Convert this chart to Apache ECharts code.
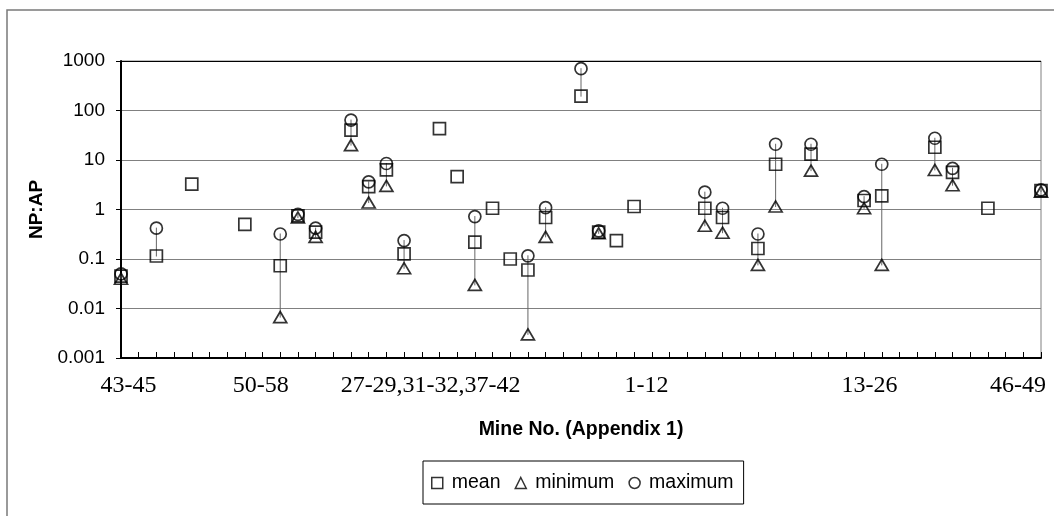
<!DOCTYPE html>
<html>
<head>
<meta charset="utf-8">
<script src="https://cdn.jsdelivr.net/npm/echarts@6/dist/echarts.min.js"></script>
<style>
  html, body { margin: 0; padding: 0; background: #fff; }
  #chart { width: 1054px; height: 516px; }
</style>
</head>
<body>
<div id="chart"></div>
<script>
// Mine groups named under the x axis, and the sampling slot each name is centred on
const groupLabels = ['43-45', '50-58', '27-29,31-32,37-42', '1-12', '13-26', '46-49'];
const groupLabelSlots = [0.42, 7.9, 17.5, 29.7, 42.3, 50.7];

// Log-axis tick labels, 0.001 .. 1000
const yTickLabels = ['0.001', '0.01', '0.1', '1', '10', '100', '1000'];

// NP:AP per sampling slot along the x axis (null = no value)
const meanNPAP = [
  0.045, null, 0.115, null, 3.25, null, null, 0.50, null, 0.073,
  0.74, 0.35, null, 40, 2.9, 6.3, 0.127, null, 43, 4.6,
  0.22, 1.06, 0.10, 0.06, 0.69, null, 195, 0.35, 0.236, 1.15,
  null, null, null, 1.06, 0.69, null, 0.163, 8.2, null, 13.1,
  null, null, 1.52, 1.88, null, null, 18.1, 5.6, null, 1.06,
  null, null, 2.4
];
const minNPAP = [
  0.04, null, null, null, null, null, null, null, null, 0.0067,
  0.69, 0.28, null, 20, 1.38, 3.0, 0.065, null, null, null,
  0.030, null, null, 0.0030, 0.28, null, null, 0.33, null, null,
  null, null, null, 0.47, 0.34, null, 0.076, 1.15, null, 6.1,
  null, null, 1.06, 0.076, null, null, 6.3, 3.1, null, null,
  null, null, 2.3
];
const maxNPAP = [
  0.05, null, 0.42, null, null, null, null, null, null, 0.32,
  0.80, 0.42, null, 64, 3.6, 8.5, 0.236, null, null, null,
  0.72, null, null, 0.116, 1.09, null, 700, 0.37, null, null,
  null, null, null, 2.24, 1.06, null, 0.32, 20.8, null, 20.8,
  null, null, 1.82, 8.2, null, null, 27.5, 6.8, null, null,
  null, null, 2.5
];

const slots = meanNPAP.map((_, i) => i);
const lastSlot = slots.length - 1;

function toPoints(arr) {
  const out = [];
  arr.forEach((v, i) => { if (v != null) out.push([i, v]); });
  return out;
}

// high-low line for each slot: lowest to highest of the three values
const rangeData = [];
slots.forEach(i => {
  const vals = [meanNPAP[i], minNPAP[i], maxNPAP[i]].filter(v => v != null);
  if (vals.length) rangeData.push([i, Math.min(...vals), Math.max(...vals)]);
});

const SANS = 'Liberation Sans, Arial, sans-serif';
const SERIF = 'Liberation Serif, Times New Roman, serif';
const gridGray = '#808080';

const chart = echarts.init(document.getElementById('chart'), null, { renderer: 'canvas' });

const markerStyle = { color: 'rgba(0,0,0,0)', borderColor: '#000', borderWidth: 1.7 };

chart.setOption({
  backgroundColor: '#fff',
  animation: false,
  graphic: [{
    type: 'rect', x: 7, y: 10, silent: true, z: -10,
    shape: { x: 0, y: 0, width: 1200, height: 700 },
    style: { fill: 'none', stroke: '#7a7a7a', lineWidth: 1.5 }
  }],
  grid: {
    left: 121, right: 13, top: 61, bottom: 158,
    show: true, borderColor: gridGray, borderWidth: 1, backgroundColor: 'transparent'
  },
  legend: {
    data: ['mean', 'minimum', 'maximum'],
    left: 423, top: 461,
    padding: [12, 10, 11, 8],
    itemGap: 14, itemWidth: 11, itemHeight: 11,
    borderColor: '#000', borderWidth: 1, borderRadius: 0,
    textStyle: { fontFamily: SANS, fontSize: 19.5, color: '#000', padding: [0, 0, 0, 4] },
    itemStyle: { borderWidth: 1.5 }
  },
  xAxis: {
    type: 'value', min: 0, max: lastSlot,
    name: 'Mine No. (Appendix 1)', nameLocation: 'middle', nameGap: 62,
    nameTextStyle: { fontFamily: SANS, fontSize: 19.5, fontWeight: 'bold', color: '#000' },
    axisLine: { onZero: false, lineStyle: { color: '#000', width: 2 } },
    axisTick: { inside: true, length: 6, customValues: slots, lineStyle: { color: '#000', width: 1 } },
    axisLabel: {
      customValues: groupLabelSlots,
      margin: 16,
      fontFamily: SERIF, fontSize: 24, color: '#000',
      formatter: v => {
        const k = groupLabelSlots.findIndex(p => Math.abs(p - v) < 1e-6);
        return k >= 0 ? groupLabels[k] : '';
      }
    },
    splitLine: { show: false }
  },
  yAxis: {
    type: 'log', logBase: 10, min: 0.001, max: 1000,
    name: 'NP:AP', nameLocation: 'middle', nameGap: 75, nameRotate: 90,
    nameTextStyle: { fontFamily: SANS, fontSize: 19, fontWeight: 'bold', color: '#000' },
    axisLine: { show: true, lineStyle: { color: '#000', width: 2 } },
    axisTick: { show: true, inside: false, length: 5, lineStyle: { color: '#000', width: 1 } },
    axisLabel: {
      margin: 16, fontFamily: SANS, fontSize: 19, color: '#000',
      formatter: v => yTickLabels[Math.round(Math.log10(v)) + 3]
    },
    splitLine: {
      show: true,
      lineStyle: { color: [gridGray, gridGray, gridGray, gridGray, gridGray, gridGray, '#000'], width: 1 }
    }
  },
  series: [
    {
      type: 'custom', name: 'range', silent: true, z: 1,
      encode: { x: 0, y: [1, 2] },
      data: rangeData,
      renderItem: (params, api) => {
        const x = api.value(0);
        const p1 = api.coord([x, api.value(1)]);
        const p2 = api.coord([x, api.value(2)]);
        return {
          type: 'line',
          shape: { x1: p1[0], y1: p1[1], x2: p2[0], y2: p2[1] },
          style: { stroke: '#666', lineWidth: 1, lineCap: 'square' }
        };
      }
    },
    {
      type: 'scatter', name: 'mean', z: 3,
      symbol: 'rect', symbolSize: 12,
      itemStyle: markerStyle,
      data: toPoints(meanNPAP)
    },
    {
      type: 'scatter', name: 'minimum', z: 3,
      symbol: 'triangle', symbolSize: [13, 11],
      itemStyle: markerStyle,
      data: toPoints(minNPAP)
    },
    {
      type: 'scatter', name: 'maximum', z: 3,
      symbol: 'circle', symbolSize: 12,
      itemStyle: markerStyle,
      data: toPoints(maxNPAP)
    }
  ]
});
</script>
</body>
</html>
